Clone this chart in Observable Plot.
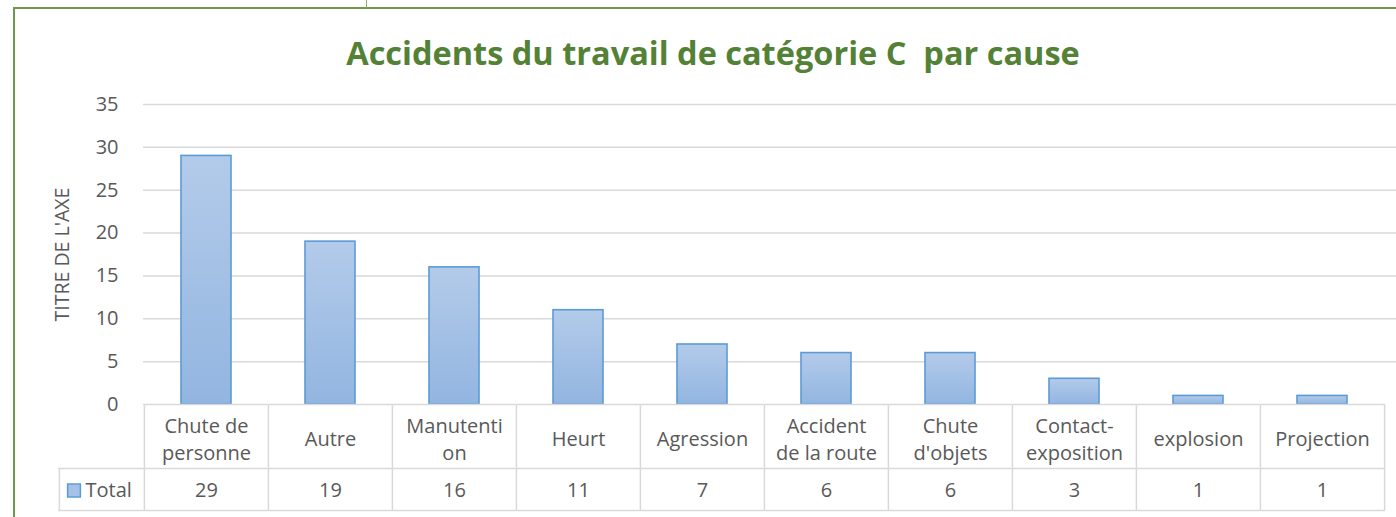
<!DOCTYPE html>
<html>
<head>
<meta charset="utf-8">
<script src="https://cdn.jsdelivr.net/npm/d3@7"></script>
<script src="https://cdn.jsdelivr.net/npm/@observablehq/plot@0.6"></script>
<style>
  html, body { margin: 0; padding: 0; background: #fff; }
  #wrap { position: relative; width: 1396px; height: 517px; overflow: hidden; background: #fff; }
  #frame { position: absolute; left: 13px; top: 7px; width: 1500px; height: 600px;
           border-left: 2px solid #6b9a4b; border-top: 2px solid #6b9a4b; box-sizing: border-box; }
  #cell { position: absolute; left: 366px; top: 0; width: 1px; height: 8px; background: #8aa97a; }
  #title { position: absolute; left: 15px; top: 33px; width: 1396px; text-align: center;
           font-family: "Open Sans", Lato, sans-serif; font-weight: 700; font-size: 32.5px; line-height: 40px;
           color: #538135; margin: 0; white-space: pre; }
  #chart { position: absolute; left: 0; top: 0; }
</style>
</head>
<body>
<div id="wrap">
  <div id="frame"></div>
  <div id="cell"></div>
  <h2 id="title">Accidents du travail de catégorie C  par cause</h2>
  <div id="chart"></div>
</div>
<script>
const causes = ["Chute de\npersonne", "Autre", "Manutenti\non", "Heurt", "Agression",
                "Accident\nde la route", "Chute\nd'objets", "Contact-\nexposition", "explosion", "Projection"];
const totals = [29, 19, 16, 11, 7, 6, 6, 3, 1, 1];
const yTicks = [0, 5, 10, 15, 20, 25, 30, 35];
const seriesName = "Total";
const axisTitle = "TITRE DE L'AXE";

const data = causes.map((c, i) => ({cause: c, total: totals[i]}));

const W = 1396, H = 517;
const mL = 143, mR = 11, mT = 104, mB = 113;
const step = (W - mL - mR) / causes.length;
const gray = "#595959";
const lineC = "#d9d9d9";
const font = "'Open Sans', Lato, sans-serif";
const fs = 20;

function defs() {
  const ns = "http://www.w3.org/2000/svg";
  const d = document.createElementNS(ns, "defs");
  const g = document.createElementNS(ns, "linearGradient");
  g.setAttribute("id", "barGrad");
  g.setAttribute("x1", "0"); g.setAttribute("y1", "0");
  g.setAttribute("x2", "0"); g.setAttribute("y2", "1");
  [["0%", "#b3cbea"], ["100%", "#92b5e0"]].forEach(([o, c]) => {
    const s = document.createElementNS(ns, "stop");
    s.setAttribute("offset", o); s.setAttribute("stop-color", c);
    g.appendChild(s);
  });
  d.appendChild(g);
  return d;
}

const last = [causes[causes.length - 1]];

const chart = Plot.plot({
  width: W, height: H,
  marginLeft: mL, marginRight: mR, marginTop: mT, marginBottom: mB,
  style: {background: "transparent", fontFamily: font, overflow: "visible"},
  x: {domain: causes, paddingInner: 0.6, paddingOuter: 0.3, axis: null},
  y: {domain: [0, 35], axis: null},
  marks: [
    defs,
    // gridlines
    Plot.ruleY(yTicks.filter(d => d > 0), {stroke: lineC, strokeWidth: 1.5, insetRight: -mR}),
    // y tick labels
    Plot.text(yTicks, {y: d => d, text: d => String(d), frameAnchor: "left", textAnchor: "end",
      dx: -25, fill: gray, fontSize: fs}),
    // y axis title
    Plot.text([axisTitle], {y: 17.5, text: d => d, frameAnchor: "left", textAnchor: "middle", rotate: -90, dx: -81,
      fill: gray, fontSize: 19.5}),
    // bars
    Plot.barY(data, {x: "cause", y: "total", fill: "url(#barGrad)", stroke: "#5b9bd5", strokeWidth: 1.6}),
    // data table: horizontal lines
    Plot.ruleY([0], {stroke: lineC, strokeWidth: 1.5}),
    Plot.ruleY([0], {stroke: lineC, strokeWidth: 1.5, dy: 64, insetLeft: -85}),
    Plot.ruleY([0], {stroke: lineC, strokeWidth: 1.5, dy: 106, insetLeft: -85}),
    // data table: vertical lines
    Plot.ruleX(data, {x: "cause", dx: -step / 2, stroke: lineC, strokeWidth: 1.5, insetTop: 300, insetBottom: -106}),
    Plot.ruleX(last, {x: d => d, dx: step / 2, stroke: lineC, strokeWidth: 1.5, insetTop: 300, insetBottom: -106}),
    Plot.ruleX([causes[0]], {x: d => d, dx: -step / 2 - 85, stroke: lineC, strokeWidth: 1.5, insetTop: 364, insetBottom: -106}),
    // category labels
    Plot.text(data, {x: "cause", text: "cause", frameAnchor: "bottom", dy: 33, fill: gray,
      fontSize: fs, lineHeight: 1.35, lineAnchor: "middle"}),
    // values row
    Plot.text(data, {x: "cause", text: d => String(d.total), frameAnchor: "bottom", dy: 86, fill: gray,
      fontSize: fs, lineAnchor: "middle"}),
    // legend key + series name
    Plot.dot([seriesName], {frameAnchor: "bottom-left", dx: -69.5, dy: 86, symbol: "square", r: 7.2,
      fill: "#a5c2e6", stroke: "#5b9bd5", strokeWidth: 1.5}),
    Plot.text([seriesName], {text: d => d, frameAnchor: "bottom-left", dx: -58, dy: 86, textAnchor: "start",
      fill: gray, fontSize: fs, lineAnchor: "middle"})
  ]
});
document.getElementById("chart").appendChild(chart);
</script>
</body>
</html>
